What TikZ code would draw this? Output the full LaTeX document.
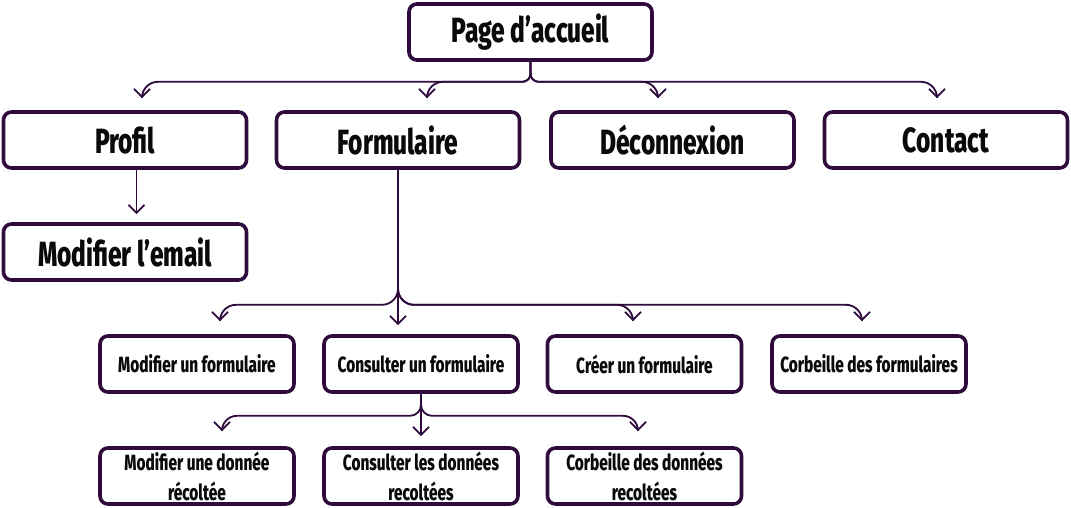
\documentclass[tikz,border=0pt]{standalone}
\usepackage{fontspec}
\setmainfont{Fira Sans}[FakeStretch=0.7, BoldFont={Fira Sans ExtraBold}]
\usetikzlibrary{arrows.meta, positioning}
\definecolor{frame}{HTML}{2E0B3C}
\definecolor{ink}  {HTML}{0A0A0A}
\tikzset{
  bigbox/.style={draw=frame, line width=3.6pt, rounded corners=8pt,
    minimum width=243pt, minimum height=56pt, inner sep=0pt, text=ink,
    align=center, font=\bfseries\fontsize{35}{38}\selectfont},
  smallbox/.style={bigbox, minimum width=194pt,
    font=\bfseries\fontsize{22}{30}\selectfont},
  link/.style={draw=frame, line width=1.8pt,
    -{Straight Barb[length=8pt,width=16pt,line width=1.9pt]}}
}

\begin{document}
\begin{tikzpicture}[x=1pt, y=-1pt]
    \useasboundingbox (0,0) rectangle (1071,508);
    \node[bigbox] (page) at (530.5,32) {Page d’accueil};
    \foreach \n/\x/\t in {profil/125/Profil, formulaire/398/Formulaire,
       deconnexion/672.5/Déconnexion, contact/946/Contact}
      {\node[bigbox] (\n) at (\x,140) {\t};}
    \node[bigbox] (email) at (125,252) {Modifier l’email};
    \foreach \n/\x/\t in {modform/197/Modifier un formulaire,
       consform/421/Consulter un formulaire, newform/644.5/Créer un formulaire,
       binform/869/Corbeille des formulaires}
      {\node[smallbox] (\n) at (\x,364) {\t};}
    \foreach \n/\x/\t in {moddata/197/Modifier une donnée\\récoltée,
       consdata/421/Consulter les données\\recoltées,
       bindata/644.5/Corbeille des données\\recoltées}
      {\node[smallbox] (\n) at (\x,476) {\t};}
    % accueil -> menu
    \foreach \n/\dx in {profil/17, formulaire/29, deconnexion/-14.5, contact/-9}
      {\draw[link] (page.south) [rounded corners=8pt] -- ++(0,20)
         [rounded corners=16pt] -| ([xshift=\dx pt, yshift=12pt]\n.north);}
    \draw[link] ([xshift=11.5pt]profil.south) -- ([xshift=11.5pt, yshift=8pt]email.north);
    % formulaire -> actions
    \foreach \n/\dx in {modform/23, newform/-11.5, binform/-7}
      {\draw[link] (formulaire.south) [rounded corners=16pt] -- ++(0,135)
         [rounded corners=16pt] -| ([xshift=\dx pt, yshift=13pt]\n.north);}
    \draw[link] (formulaire.south) -- ([yshift=9pt]formulaire.south |- consform.north);
    % consulter -> donnees
    \foreach \n/\dx in {moddata/25, bindata/-6.5}
      {\draw[link] (consform.south) [rounded corners=11pt] -- ++(0,22)
         [rounded corners=15pt] -| ([xshift=\dx pt, yshift=15pt]\n.north);}
    \draw[link] (consform.south) -- ([yshift=10pt]consdata.north);
  \end{tikzpicture}
\end{document}
